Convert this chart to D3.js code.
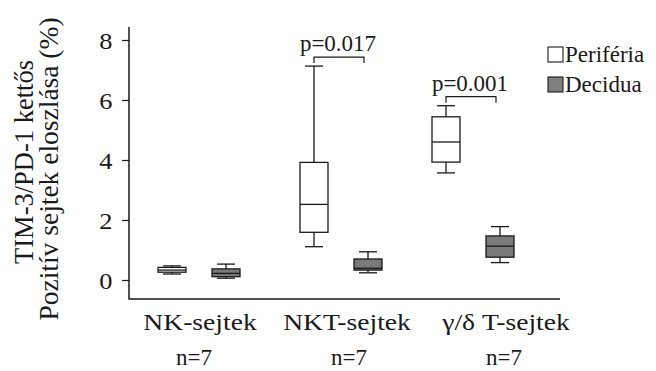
<!DOCTYPE html>
<html>
<head>
<meta charset="utf-8">
<script src="https://cdn.jsdelivr.net/npm/d3@7/dist/d3.min.js"></script>
<style>
html,body{margin:0;padding:0;background:#fff;}
svg{display:block;}
text{font-family:"Liberation Serif","Times New Roman",serif;fill:#1a1a1a;}
</style>
</head>
<body>
<svg id="chart" width="656" height="371"></svg>
<script>
// ---- data ----
const categories = ["NK-sejtek", "NKT-sejtek", "γ/δ T-sejtek"];
const nLabels = ["n=7", "n=7", "n=7"];
const groups = ["Periféria", "Decidua"];
// [min, q1, median, q3, max] per category
const periferiaStats = [
  [0.20, 0.26, 0.33, 0.42, 0.47],
  [1.11, 1.59, 2.52, 3.92, 7.13],
  [3.57, 3.93, 4.60, 5.44, 5.81]
];
const deciduaStats = [
  [0.06, 0.11, 0.22, 0.37, 0.53],
  [0.24, 0.33, 0.39, 0.70, 0.94],
  [0.58, 0.76, 1.13, 1.47, 1.78]
];
const pLabels = [null, "p=0.017", "p=0.001"];
const yTicks = [0, 2, 4, 6, 8];
const yTitleLines = ["TIM-3/PD-1 kettős", "Pozitív sejtek eloszlása (%)"];

// ---- layout ----
const svg = d3.select("#chart");
const y = d3.scaleLinear().domain([0, 8]).range([280, 40]);
const x = d3.scaleOrdinal().domain(categories).range([199, 341, 473]);
const xSub = d3.scalePoint().domain(groups).range([-27, 27]);
const xLabel = d3.scaleOrdinal().domain(categories).range([200, 347, 506]);
const xN = d3.scaleOrdinal().domain(categories).range([194, 349, 504]);
const fills = d3.scaleOrdinal().domain(groups).range(["#ffffff", "#7a7a7a"]);
const boxW = 28, capW = 18;
const stroke = "#1a1a1a";
const axisX = 129, axisBottom = 299, axisTop = 27, axisRight = 560;

// axes
const yAxis = d3.axisLeft(y).tickValues(yTicks).tickSize(7).tickPadding(9).tickFormat(d3.format("d"));
const gy = svg.append("g").attr("transform", `translate(${axisX},0)`).call(yAxis);
gy.select(".domain").remove();
gy.selectAll(".tick line").attr("stroke", stroke).attr("stroke-width", 1.2);
gy.selectAll(".tick text").attr("font-size", 24).attr("fill", "#1a1a1a").attr("dy", "0.34em")
  .attr("transform", "scale(1.1,1)").attr("x", -15);

svg.append("path")
  .attr("d", `M${axisX},${axisTop}V${axisBottom}H${axisRight}`)
  .attr("fill", "none").attr("stroke", stroke).attr("stroke-width", 1.5);

// boxes
const allStats = { "Periféria": periferiaStats, "Decidua": deciduaStats };
groups.forEach(g => {
  categories.forEach((c, i) => {
    const s = allStats[g][i];
    const cx = x(c) + xSub(g);
    const gg = svg.append("g").attr("stroke", stroke).attr("stroke-width", 1.3).attr("fill", "none");
    gg.append("line").attr("x1", cx).attr("x2", cx).attr("y1", y(s[4])).attr("y2", y(s[3]));
    gg.append("line").attr("x1", cx).attr("x2", cx).attr("y1", y(s[1])).attr("y2", y(s[0]));
    gg.append("line").attr("x1", cx - capW / 2).attr("x2", cx + capW / 2).attr("y1", y(s[4])).attr("y2", y(s[4]));
    gg.append("line").attr("x1", cx - capW / 2).attr("x2", cx + capW / 2).attr("y1", y(s[0])).attr("y2", y(s[0]));
    gg.append("rect").attr("x", cx - boxW / 2).attr("width", boxW)
      .attr("y", y(s[3])).attr("height", y(s[1]) - y(s[3]))
      .attr("fill", fills(g));
    gg.append("line").attr("x1", cx - boxW / 2).attr("x2", cx + boxW / 2).attr("y1", y(s[2])).attr("y2", y(s[2]));
  });
});

// significance brackets
categories.forEach((c, i) => {
  if (!pLabels[i]) return;
  const x1 = x(c) + xSub(groups[0]);
  const x2 = x(c) + xSub(groups[1]) - 4;
  const by = y(periferiaStats[i][4]) - 9;
  svg.append("path")
    .attr("d", `M${x1},${by + 6}V${by}H${x2}V${by + 6}`)
    .attr("fill", "none").attr("stroke", stroke).attr("stroke-width", 1.2);
  svg.append("text").attr("x", (x1 + x2) / 2 - 1).attr("y", by - 6)
    .attr("text-anchor", "middle").attr("font-size", 23).text(pLabels[i]);
});

// category labels
categories.forEach((c, i) => {
  svg.append("text")
    .attr("transform", `translate(${xLabel(c)},330) scale(1.2,1)`)
    .attr("text-anchor", "middle").attr("font-size", 23).text(c);
  svg.append("text")
    .attr("x", xN(c)).attr("y", 365)
    .attr("text-anchor", "middle").attr("font-size", 23).text(nLabels[i]);
});

// y title
svg.append("text").attr("transform", "translate(33,162) rotate(-90)")
  .attr("text-anchor", "middle").attr("font-size", 26.5).text(yTitleLines[0]);
svg.append("text").attr("transform", "translate(58,169) rotate(-90)")
  .attr("text-anchor", "middle").attr("font-size", 27.5).text(yTitleLines[1]);

// legend
const legend = svg.append("g");
groups.forEach((g, i) => {
  const ly = 47 + i * 30;
  legend.append("rect").attr("x", 548).attr("y", ly).attr("width", 15).attr("height", 15)
    .attr("fill", i === 0 ? "#ffffff" : "#808080")
    .attr("stroke", stroke).attr("stroke-width", 1.1);
  legend.append("text").attr("x", 565).attr("y", ly + 15).attr("font-size", 23).text(g);
});
</script>
</body>
</html>
